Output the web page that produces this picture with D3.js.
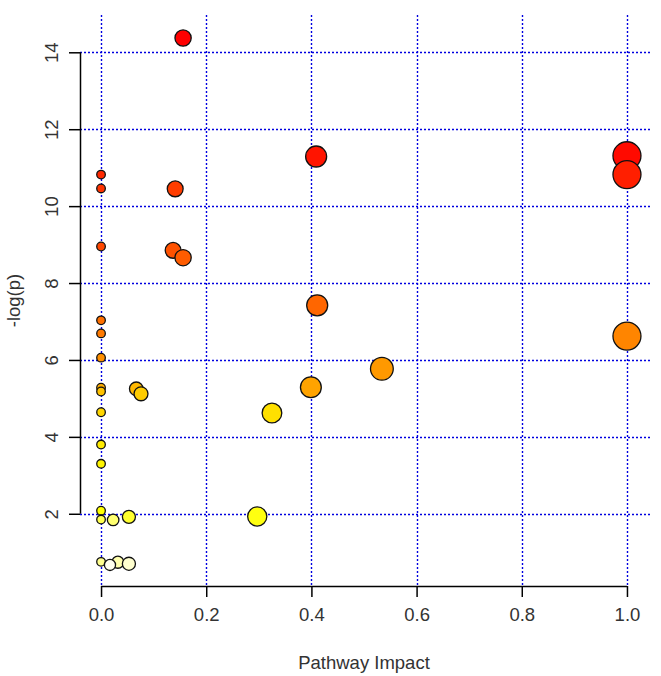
<!DOCTYPE html>
<html>
<head>
<meta charset="utf-8">
<script src="https://cdn.jsdelivr.net/npm/d3@7/dist/d3.min.js"></script>
<style>
  html, body { margin: 0; padding: 0; background: #ffffff; }
  svg { display: block; font-family: "Liberation Sans", Arial, sans-serif; }
</style>
</head>
<body>
<svg id="chart" width="661" height="676"></svg>
<script>
// ---- data (pathway impact vs -log(p)) ----
const impact = [0.156, 1.0, 0.409, 1.0, 0.0, 0.0, 0.141, 0.0, 0.137, 0.156,
                0.411, 0.0, 0.0, 1.0, 0.0, 0.534, 0.399, 0.0, 0.067, 0.0,
                0.076, 0.0, 0.325, 0.0, 0.0, 0.0, 0.297, 0.053, 0.0, 0.023,
                0.0, 0.032, 0.053, 0.017];
const negLogP = [14.37, 11.31, 11.29, 10.82, 10.82, 10.46, 10.45, 8.95, 8.85, 8.66,
                 7.42, 7.03, 6.69, 6.62, 6.06, 5.77, 5.29, 5.28, 5.25, 5.18,
                 5.12, 4.64, 4.62, 3.80, 3.30, 2.08, 1.93, 1.92, 1.85, 1.84,
                 0.75, 0.74, 0.70, 0.67];
const xTicks = [0.0, 0.2, 0.4, 0.6, 0.8, 1.0];
const yTicks = [2, 4, 6, 8, 10, 12, 14];
const xTitle = "Pathway Impact";
const yTitle = "-log(p)";

// ---- R-like heat.colors(n) ----
function heatColors(n) {
  const j = Math.floor(n / 4), i = n - j;
  const out = [];
  for (let k = 0; k < i; k++) {
    const h = i > 1 ? (k / (i - 1)) * (1 / 6) : 0;
    out.push(d3.hsl(h * 360, 1, 0.5).formatHex());
  }
  for (let k = 0; k < j; k++) {
    const s0 = 1 - 1 / (2 * j), s1 = 1 / (2 * j);
    const s = j > 1 ? s0 + k * (s1 - s0) / (j - 1) : s1;
    const b = Math.round(255 * (1 - s));
    out.push(d3.rgb(255, 255, b).formatHex());
  }
  return out;
}

const points = impact.map((x, i) => ({ x, y: negLogP[i] }))
  .sort((a, b) => b.y - a.y);
const cols = heatColors(points.length);
points.forEach((p, i) => p.color = cols[i]);

// ---- layout ----
const svg = d3.select("#chart");
const L = 80, R = 648, T = 17, B = 586;

const xExt = d3.extent(impact), yExt = d3.extent(negLogP);
const xPad = (xExt[1] - xExt[0]) * 0.04, yPad = (yExt[1] - yExt[0]) * 0.04;
const x = d3.scaleLinear().domain([xExt[0] - xPad, xExt[1] + xPad]).range([L, R]);
const y = d3.scaleLinear().domain([yExt[0] - yPad, yExt[1] + yPad]).range([B, T]);
const r = d3.scaleSqrt().domain([0, 1]).range([4.3, 14]);

// grid
const grid = svg.append("g")
  .attr("stroke", "#0000e0").attr("stroke-width", 1.4)
  .attr("stroke-dasharray", "2,2").attr("fill", "none");
grid.selectAll("line.v").data(xTicks).join("line")
  .attr("x1", d => Math.round(x(d)) + 0.5).attr("x2", d => Math.round(x(d)) + 0.5)
  .attr("y1", T - 2).attr("y2", B);
grid.selectAll("line.h").data(yTicks).join("line")
  .attr("x1", L).attr("x2", R + 2)
  .attr("y1", d => Math.round(y(d)) + 0.5).attr("y2", d => Math.round(y(d)) + 0.5);

// axes
const tickLen = 11;
const xAxis = d3.axisBottom(x).tickValues(xTicks).tickFormat(d3.format(".1f"))
  .tickSize(tickLen).tickPadding(11);
const gx = svg.append("g").attr("transform", `translate(0,${B})`).call(xAxis);
gx.select(".domain").attr("d", `M${x(xTicks[0])},0.5H${x(xTicks[xTicks.length - 1])}`);

const yAxis = d3.axisLeft(y).tickValues(yTicks).tickFormat(d3.format("d"))
  .tickSize(tickLen).tickPadding(10);
const gy = svg.append("g").attr("transform", `translate(${L},0)`).call(yAxis);
gy.select(".domain").attr("d", `M0.5,${y(yTicks[0])}V${y(yTicks[yTicks.length - 1])}`);
gy.selectAll(".tick text")
  .attr("transform", `translate(${-tickLen - 17},0) rotate(-90)`)
  .attr("x", 0).attr("dy", "0.35em")
  .attr("text-anchor", "middle");

[gx, gy].forEach(g => {
  g.select(".domain").attr("stroke", "#000").attr("stroke-width", 1.5);
  g.selectAll(".tick line").attr("stroke", "#000").attr("stroke-width", 1.5);
  g.selectAll(".tick text").attr("fill", "#333").attr("font-size", 18.5)
    .attr("font-family", "Liberation Sans, Arial, sans-serif");
});

// points
svg.append("g").selectAll("circle").data(points).join("circle")
  .attr("cx", d => x(d.x)).attr("cy", d => y(d.y))
  .attr("r", d => r(d.x))
  .attr("fill", d => d.color)
  .attr("stroke", "#111").attr("stroke-width", 1.3);

// titles
svg.append("text")
  .attr("x", (L + R) / 2).attr("y", 663).attr("dy", "0.35em")
  .attr("text-anchor", "middle").attr("font-size", 18.5).attr("fill", "#333")
  .text(xTitle);
svg.append("text")
  .attr("transform", `translate(14,${(15 + B) / 2}) rotate(-90)`)
  .attr("dy", "0.35em")
  .attr("text-anchor", "middle").attr("font-size", 18.5).attr("fill", "#333")
  .text(yTitle);
</script>
</body>
</html>
